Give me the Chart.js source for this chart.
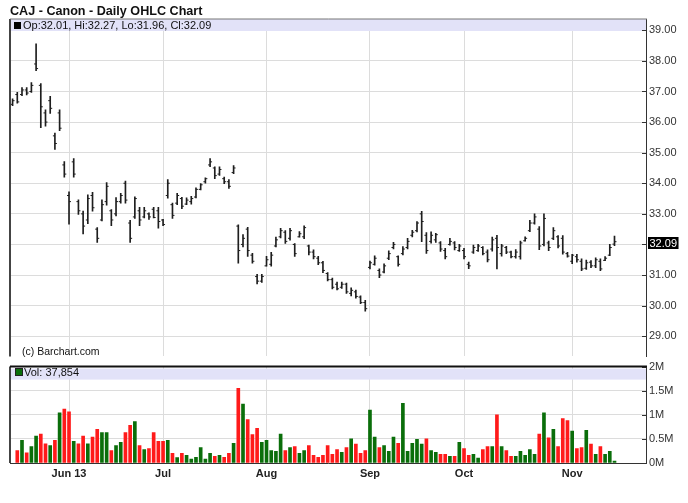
<!DOCTYPE html>
<html>
<head>
<meta charset="utf-8">
<script src="https://cdn.jsdelivr.net/npm/chart.js@4.4.0/dist/chart.umd.min.js"></script>
<style>
  html, body { margin: 0; padding: 0; background: #fff; }
  #wrap { position: relative; width: 688px; height: 503px; overflow: hidden; font-family: "Liberation Sans", Arial, sans-serif; }
  canvas { position: absolute; left: 0; }
  #priceCanvas { top: 0; }
  #volCanvas { top: 357px; }
  .txt { position: absolute; white-space: nowrap; color: #111; z-index: 2; }
  #title { left: 10px; top: 3px; font-weight: bold; font-size: 12.6px; line-height: 16px; }
  #priceLegend { left: 23px; top: 19px; font-size: 11px; line-height: 13px; }
  #volLegend { left: 24px; top: 366px; font-size: 11px; line-height: 13px; }
  #credit { left: 22px; top: 345px; font-size: 10.5px; line-height: 13px; }
  .sq { position: absolute; width: 7px; height: 7px; z-index: 2; }
  #priceSq { left: 14px; top: 22px; background: #000; }
  #volSq { left: 15px; top: 368px; width: 6px; height: 6px; background: #0a6e0a; border: 1px solid #222; }
</style>
</head>
<body>
<div id="wrap">
  <canvas id="priceCanvas" width="688" height="366"></canvas>
  <canvas id="volCanvas" width="688" height="146"></canvas>
  <div id="title" class="txt">CAJ - Canon - Daily OHLC Chart</div>
  <div id="priceSq" class="sq"></div>
  <div id="priceLegend" class="txt"></div>
  <div id="volSq" class="sq"></div>
  <div id="volLegend" class="txt"></div>
  <div id="credit" class="txt">(c) Barchart.com</div>
</div>
<script>
// trading days, 15 May 2013 .. 14 Nov 2013 (index = day number)
const monthTickIdx = [12, 32, 54, 76, 96, 119];
const monthTickLabels = ['Jun 13', 'Jul', 'Aug', 'Sep', 'Oct', 'Nov'];

const priceTicks = [29, 30, 31, 32, 33, 34, 35, 36, 37, 38, 39];
const volTicks = [0, 500000, 1000000, 1500000, 2000000];
const volTickLabels = ['0M', '0.5M', '1M', '1.5M', '2M'];

const opens = [
  36.58, 36.90, 36.90, 37.05, 37.00, 37.90, 37.20, 36.30, 36.70, 35.55,
  36.30, 34.60, 33.60, 34.70, 33.40, 33.00, 32.80, 33.60, 32.50, 32.80,
  33.40, 33.10, 33.00, 33.40, 34.00, 32.70, 32.90, 33.10, 32.90, 33.00,
  33.15, 33.10, 32.80, 33.60, 33.30, 33.35, 33.50, 33.32, 33.40, 33.55,
  33.80, 34.05, 34.60, 34.50, 34.30, 34.15, 34.05, 34.35, 32.60, 32.00,
  32.50, 31.65, 30.95, 30.80, 31.30, 31.35, 31.95, 32.25, 32.40, 32.20,
  32.00, 32.25, 32.25, 31.95, 31.75, 31.55, 31.40, 31.05, 30.85, 30.70,
  30.60, 30.70, 30.40, 30.45, 30.28, 30.10, 31.25, 31.35, 31.15, 31.10,
  31.55, 31.90, 31.60, 31.70, 31.90, 32.30, 32.45, 33.00, 32.30, 32.10,
  32.15, 32.05, 31.80, 32.00, 32.05, 31.80, 31.80, 31.35, 31.75, 31.80,
  31.90, 31.75, 31.85, 32.20, 31.70, 31.90, 31.75, 31.60, 31.60, 32.12,
  32.45, 32.70, 32.50, 32.00, 32.05, 32.20, 32.25, 32.20, 31.70, 31.45,
  31.60, 31.45, 31.22, 31.42, 31.30, 31.45, 31.48, 31.65, 32.01
];
const highs = [
  36.76, 36.97, 37.13, 37.13, 37.29, 38.56, 37.26, 36.40, 36.84, 35.64,
  36.40, 34.71, 33.72, 34.81, 33.46, 33.09, 33.62, 33.70, 32.55, 33.46,
  34.02, 33.14, 33.53, 33.67, 34.07, 32.79, 33.56, 33.21, 33.21, 33.03,
  33.21, 33.21, 32.82, 34.12, 33.35, 33.67, 33.54, 33.52, 33.57, 33.85,
  33.99, 34.18, 34.81, 34.54, 34.54, 34.20, 34.12, 34.58, 32.64, 32.32,
  32.56, 31.71, 31.02, 31.02, 31.61, 31.74, 32.24, 32.53, 32.45, 32.53,
  32.03, 32.42, 32.61, 31.98, 31.82, 31.61, 31.45, 31.08, 30.90, 30.77,
  30.77, 30.74, 30.58, 30.51, 30.32, 30.17, 31.46, 31.63, 31.20, 31.37,
  31.79, 32.07, 31.63, 31.93, 32.20, 32.46, 32.75, 33.08, 32.39, 32.41,
  32.36, 32.09, 31.87, 32.20, 32.09, 32.00, 31.87, 31.42, 31.98, 32.00,
  31.93, 31.82, 32.24, 32.30, 32.00, 31.94, 31.78, 31.83, 32.11, 32.25,
  32.79, 33.00, 32.58, 33.00, 32.11, 32.55, 32.29, 32.29, 31.74, 31.68,
  31.68, 31.53, 31.49, 31.47, 31.56, 31.53, 31.60, 32.00, 32.27
];
const lows = [
  36.54, 36.62, 36.86, 36.89, 36.97, 37.68, 35.82, 35.87, 36.28, 35.11,
  35.72, 34.20, 32.66, 34.20, 32.98, 32.34, 32.68, 33.09, 32.07, 32.77,
  33.28, 32.61, 32.93, 33.35, 33.35, 32.07, 32.85, 32.61, 32.87, 32.82,
  32.87, 32.53, 32.61, 33.51, 32.85, 33.30, 33.17, 33.30, 33.32, 33.52,
  33.78, 34.00, 34.54, 34.15, 34.26, 33.99, 33.83, 34.31, 31.39, 31.92,
  31.61, 31.39, 30.71, 30.76, 31.29, 31.29, 31.92, 32.21, 32.03, 32.14,
  31.61, 32.24, 32.19, 31.66, 31.53, 31.34, 31.08, 30.81, 30.55, 30.51,
  30.56, 30.40, 30.32, 30.24, 30.06, 29.82, 31.20, 31.32, 30.91, 31.07,
  31.50, 31.85, 31.29, 31.66, 31.85, 32.25, 32.41, 32.09, 31.71, 32.04,
  32.07, 31.77, 31.53, 31.98, 31.82, 31.77, 31.53, 31.21, 31.71, 31.77,
  31.66, 31.43, 31.78, 31.20, 31.62, 31.70, 31.56, 31.55, 31.52, 32.11,
  32.42, 32.66, 31.83, 31.95, 31.80, 32.16, 31.89, 31.68, 31.58, 31.37,
  31.42, 31.14, 31.18, 31.24, 31.24, 31.14, 31.47, 31.63, 31.96
];
const closes = [
  36.70, 36.66, 37.05, 36.95, 37.20, 37.75, 36.50, 36.00, 36.45, 35.30,
  35.80, 34.30, 33.40, 34.30, 33.10, 32.60, 33.50, 33.20, 32.20, 33.30,
  33.90, 32.80, 33.40, 33.60, 33.45, 32.20, 33.50, 32.80, 33.10, 32.90,
  32.88, 32.75, 32.65, 34.00, 32.95, 33.60, 33.25, 33.45, 33.50, 33.80,
  33.95, 34.15, 34.70, 34.25, 34.45, 34.05, 33.90, 34.50, 31.80, 32.20,
  31.80, 31.45, 30.80, 30.95, 31.50, 31.65, 32.15, 32.45, 32.10, 32.45,
  31.70, 32.35, 32.55, 31.75, 31.60, 31.40, 31.15, 30.85, 30.60, 30.55,
  30.70, 30.45, 30.50, 30.30, 30.10, 29.90, 31.40, 31.55, 31.00, 31.30,
  31.70, 32.00, 31.35, 31.85, 32.10, 32.40, 32.70, 32.75, 31.80, 32.30,
  32.32, 31.85, 31.60, 32.10, 31.90, 31.95, 31.60, 31.30, 31.90, 31.95,
  31.70, 31.50, 32.15, 31.90, 31.95, 31.75, 31.60, 31.75, 32.05, 32.20,
  32.70, 32.90, 31.95, 32.85, 31.90, 32.45, 31.95, 31.75, 31.62, 31.65,
  31.50, 31.20, 31.40, 31.30, 31.50, 31.20, 31.55, 31.90, 32.09
];
const volumes = [
  null, 260000, 470000, 210000, 340000, 560000, 600000, 400000, 360000, 470000,
  1040000, 1120000, 1060000, 450000, 400000, 560000, 400000, 540000, 700000, 630000,
  630000, 260000, 360000, 430000, 630000, 780000, 860000, 360000, 280000, 300000,
  630000, 450000, 450000, 470000, 200000, 110000, 200000, 160000, 80000, 120000,
  320000, 80000, 200000, 140000, 160000, 120000, 200000, 410000, 1550000, 1220000,
  900000, 590000, 720000, 430000, 470000, 260000, 240000, 600000, 260000, 320000,
  340000, 200000, 260000, 360000, 160000, 120000, 160000, 360000, 180000, 280000,
  220000, 320000, 500000, 390000, 200000, 260000, 1100000, 540000, 320000, 360000,
  240000, 540000, 410000, 1240000, 240000, 410000, 490000, 390000, 500000, 260000,
  220000, 180000, 180000, 140000, 140000, 430000, 300000, 160000, 180000, 100000,
  280000, 340000, 340000, 1000000, 340000, 260000, 140000, 140000, 240000, 160000,
  280000, 180000, 600000, 1040000, 520000, 700000, 340000, 920000, 880000, 660000,
  300000, 320000, 680000, 390000, 180000, 340000, 180000, 240000, 37854
];

const FONT = '"Liberation Sans", Arial, sans-serif';
const GRID = '#dcdcdc';
const UP = '#0a6e0a';
const DOWN = '#ff1a1a';
const TICK_OFF = 0.21; // open/close tick offset, in days

const last = closes.length - 1;
document.getElementById('priceLegend').textContent =
  `Op:${opens[last].toFixed(2)}, Hi:${highs[last].toFixed(2)}, Lo:${lows[last].toFixed(2)}, Cl:${closes[last].toFixed(2)}`;
document.getElementById('volLegend').textContent = `Vol: ${volumes[last].toLocaleString('en-US')}`;

// header band + frame for each panel
const panelFrame = {
  id: 'panelFrame',
  beforeDatasetsDraw(chart, args, opts) {
    const { ctx, chartArea: a } = chart;
    ctx.save();
    ctx.fillStyle = '#e2e2f8';
    ctx.fillRect(a.left, a.top + opts.bandTop, a.right - a.left, opts.bandHeight);
    ctx.restore();
  },
  afterDraw(chart, args, opts) {
    const { ctx, chartArea: a } = chart;
    const ys = chart.scales.y;
    ctx.save();
    ctx.strokeStyle = '#333';
    ctx.lineWidth = 1;
    ys.ticks.forEach(t => {
      const py = Math.round(ys.getPixelForValue(t.value)) + 0.5;
      ctx.beginPath();
      ctx.moveTo(a.right - 4, py);
      ctx.lineTo(a.right, py);
      ctx.stroke();
    });
    ctx.strokeStyle = '#444';
    ctx.lineWidth = 2;
    ctx.beginPath();
    ctx.moveTo(a.left, a.top);
    ctx.lineTo(a.left, a.bottom);
    ctx.stroke();
    ctx.strokeStyle = opts.topColor;
    ctx.lineWidth = opts.topWidth;
    ctx.beginPath();
    ctx.moveTo(a.left, a.top);
    ctx.lineTo(a.right + 1, a.top);
    ctx.stroke();
    ctx.restore();
  }
};

// black tag with the last close on the price axis
const lastPriceTag = {
  id: 'lastPriceTag',
  afterDraw(chart) {
    const { ctx, chartArea: a } = chart;
    const v = closes[last];
    const py = Math.round(chart.scales.y.getPixelForValue(v)) + 1;
    const txt = v.toFixed(2);
    ctx.save();
    ctx.font = '11px ' + FONT;
    const w = ctx.measureText(txt).width;
    ctx.fillStyle = '#000';
    ctx.fillRect(a.right + 2, py - 6, w + 3, 12);
    ctx.fillStyle = '#fff';
    ctx.textBaseline = 'middle';
    ctx.fillText(txt, a.right + 3.5, py + 0.5);
    ctx.restore();
  }
};

const xScale = (showLabels) => ({
  type: 'linear',
  min: -0.55,
  max: 134.7,
  offset: false,
  afterBuildTicks: s => { s.ticks = monthTickIdx.map(v => ({ value: v })); },
  afterFit: s => { s.height = showLabels ? 40 : 0; },
  grid: { color: GRID, drawTicks: false, offset: false },
  border: { display: showLabels, color: '#333', width: 1 },
  ticks: {
    display: showLabels,
    padding: 4,
    autoSkip: false,
    maxRotation: 0,
    color: '#222',
    font: { family: FONT, size: 11, weight: 'bold' },
    callback: v => monthTickLabels[monthTickIdx.indexOf(v)]
  }
});

const baseOptions = {
  responsive: false,
  animation: false,
  devicePixelRatio: 1,
  events: [],
  plugins: { legend: { display: false }, tooltip: { enabled: false } }
};

new Chart(document.getElementById('priceCanvas'), {
  type: 'bar',
  data: {
    datasets: [
      {
        type: 'bar',
        label: 'Range',
        data: highs.map((h, i) => ({ x: i, y: [lows[i], h] })),
        backgroundColor: '#1e1e1e',
        barThickness: 1,
        borderWidth: 0
      },
      {
        type: 'scatter',
        label: 'Open',
        data: opens.map((o, i) => ({ x: i - TICK_OFF, y: o })),
        pointStyle: 'line',
        pointRadius: 1,
        borderColor: '#1e1e1e',
        borderWidth: 1
      },
      {
        type: 'scatter',
        label: 'Close',
        data: closes.map((c, i) => ({ x: i + TICK_OFF, y: c })),
        pointStyle: 'line',
        pointRadius: 1,
        borderColor: '#1e1e1e',
        borderWidth: 1
      }
    ]
  },
  options: {
    ...baseOptions,
    layout: { padding: { left: 10, top: 19, right: 0, bottom: 2 } },
    scales: {
      x: xScale(false),
      y: {
        position: 'right',
        min: 28.34,
        max: 39.37,
        afterBuildTicks: s => { s.ticks = priceTicks.map(v => ({ value: v })); },
        afterFit: s => { s.width = 42; },
        grid: { color: GRID, drawTicks: false },
        border: { color: '#333', width: 1 },
        ticks: {
          padding: 3,
          color: '#333',
          font: { family: FONT, size: 11 },
          callback: v => v.toFixed(2)
        }
      }
    },
    plugins: {
      ...baseOptions.plugins,
      panelFrame: { bandTop: 0, bandHeight: 12, topColor: '#777', topWidth: 1 }
    }
  },
  plugins: [panelFrame, lastPriceTag]
});

new Chart(document.getElementById('volCanvas'), {
  type: 'bar',
  data: {
    datasets: [{
      label: 'Volume',
      data: volumes.map((v, i) => ({ x: i, y: v })),
      backgroundColor: volumes.map((v, i) => (i > 0 && closes[i] >= closes[i - 1]) ? UP : DOWN),
      barThickness: 3,
      borderWidth: 0
    }]
  },
  options: {
    ...baseOptions,
    layout: { padding: { left: 10, top: 7, right: 0, bottom: 0 } },
    scales: {
      x: xScale(true),
      y: {
        position: 'right',
        min: 0,
        max: 2000000,
        afterBuildTicks: s => { s.ticks = volTicks.map(v => ({ value: v })); },
        afterFit: s => { s.width = 42; },
        grid: { color: GRID, drawTicks: false },
        border: { color: '#333', width: 1 },
        ticks: {
          padding: 3,
          color: '#333',
          font: { family: FONT, size: 11 },
          callback: v => volTickLabels[volTicks.indexOf(v)]
        }
      }
    },
    plugins: {
      ...baseOptions.plugins,
      panelFrame: { bandTop: 2, bandHeight: 11, topColor: '#111', topWidth: 2 }
    }
  },
  plugins: [panelFrame]
});
</script>
</body>
</html>
